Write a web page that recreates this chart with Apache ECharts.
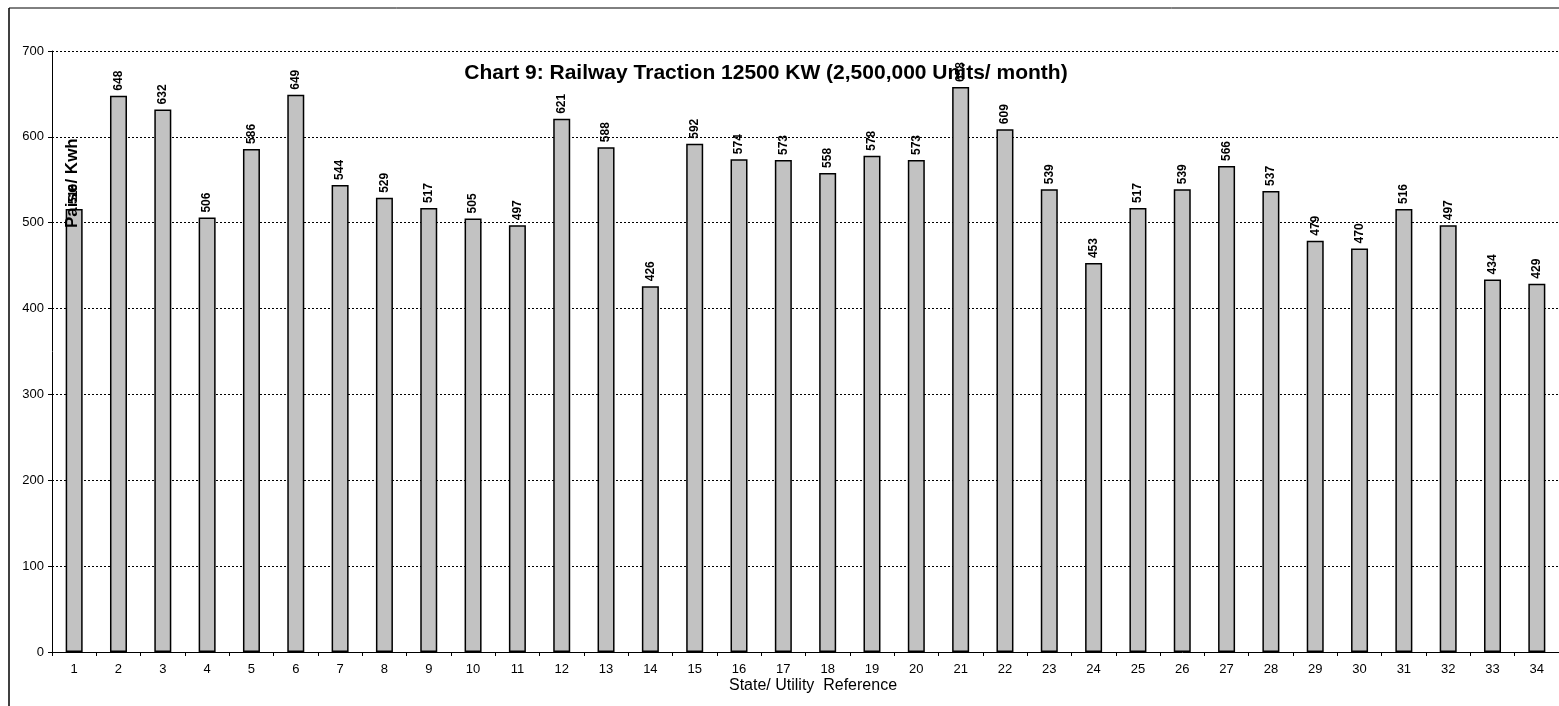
<!DOCTYPE html>
<html>
<head>
<meta charset="utf-8">
<script src="https://cdn.jsdelivr.net/npm/echarts@6/dist/echarts.min.js"></script>
<style>html,body{margin:0;padding:0;background:#fff}#c{width:1559px;height:706px}</style>
</head>
<body>
<div id="c"></div>
<script>
const categories = ['1','2','3','4','5','6','7','8','9','10','11','12','13','14','15','16','17','18','19','20','21','22','23','24','25','26','27','28','29','30','31','32','33','34'];
const values = [516,648,632,506,586,649,544,529,517,505,497,621,588,426,592,574,573,558,578,573,658,609,539,453,517,539,566,537,479,470,516,497,434,429];
const titleText = 'Chart 9: Railway Traction 12500 KW (2,500,000 Units/ month)';
const yName = 'Paise/ Kwh';
const xName = 'State/ Utility  Reference';

const FONT = 'Liberation Sans, Arial';
const chart = echarts.init(document.getElementById('c'), null, {renderer: 'canvas'});
chart.setOption({
  animation: false,
  backgroundColor: '#fff',
  title: {
    text: titleText, left: 761, top: 58, textAlign: 'center',
    textStyle: {fontFamily: FONT, fontSize: 21, fontWeight: 'bold', color: '#000'}
  },
  grid: {left: 52, right: -4, top: 51, bottom: 54, containLabel: false},
  xAxis: {
    type: 'category', data: categories,
    axisLine: {lineStyle: {color: '#000', width: 1}},
    axisTick: {show: true, alignWithLabel: false, length: 4, lineStyle: {color: '#000'}},
    axisLabel: {fontFamily: FONT, fontSize: 13, color: '#000', margin: 11}
  },
  yAxis: {
    type: 'value', min: 0, max: 700, interval: 100,
    axisLine: {show: true, lineStyle: {color: '#000', width: 1}},
    axisTick: {show: true, length: 4, lineStyle: {color: '#000'}},
    axisLabel: {fontFamily: FONT, fontSize: 13, color: '#000', margin: 8},
    splitLine: {show: true, lineStyle: {color: '#000', type: [2, 2], width: 1}}
  },
  graphic: [
    {type: 'line', shape: {x1: 9, y1: 8, x2: 9, y2: 706}, style: {stroke: '#000', lineWidth: 1.5}, z: 10},
    {type: 'line', shape: {x1: 9, y1: 8, x2: 1559, y2: 8}, style: {stroke: '#000', lineWidth: 1}, z: 10},
    {type: 'text', x: 64, y: 228, rotation: Math.PI / 2,
     style: {text: yName, fontFamily: FONT, fontSize: 17, fontWeight: 'bold', fill: '#000', textAlign: 'left', textVerticalAlign: 'top'}, z: 20},
    {type: 'text', x: 813, y: 686,
     style: {text: xName, fontFamily: FONT, fontSize: 16, fill: '#000', textAlign: 'center', textVerticalAlign: 'middle'}, z: 20}
  ],
  series: [{
    type: 'bar', data: values, barWidth: 17,
    itemStyle: {color: '#c2c2c2', borderColor: '#000', borderWidth: 1.5},
    label: {
      show: true, position: 'top', rotate: 90, distance: 5, align: 'left', verticalAlign: 'middle',
      fontFamily: FONT, fontSize: 12, fontWeight: 'bold', color: '#000'
    }
  }]
});
</script>
</body>
</html>
